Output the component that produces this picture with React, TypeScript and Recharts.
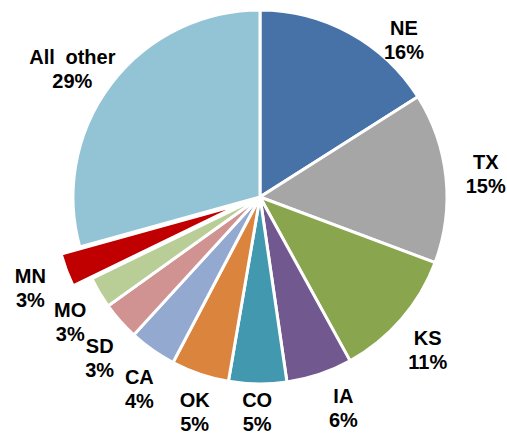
import { PieChart, Pie, Cell } from 'recharts';

const states = ['NE', 'TX', 'KS', 'IA', 'CO', 'OK', 'CA', 'SD', 'MO', 'MN', 'All other'];
const shares = [16.0, 14.7, 11.3, 5.7, 5.0, 5.0, 4.1, 3.3, 2.7, 2.9, 29.3];
const colors = [
  '#4672A8', '#A6A6A6', '#89A54E', '#71588F', '#4198AF', '#DB843D',
  '#93A9CF', '#D09392', '#B9CD96', '#C00000', '#93C4D5',
];
const exploded = 'MN';

// small clockwise nudges (degrees) so labels sit where the original put them
const labelNudge: Record<string, number> = {
  KS: 1.5, IA: -3, OK: -2, CA: -3, SD: -3.5, MO: -2.5, MN: -1, 'All other': -3,
};

const RADIAN = Math.PI / 180;
const CX = 260;
const CY = 197;
const R = 187;
const EXPLODE = 20;

const data = states.map((name, i) => ({ name, value: shares[i], color: colors[i] }));

// mid angle of the exploded slice, recharts convention (90 = top, decreasing clockwise)
const total = shares.reduce((a, b) => a + b, 0);
const expIdx = states.indexOf(exploded);
const before = shares.slice(0, expIdx).reduce((a, b) => a + b, 0);
const expMid = 90 - (360 * (before + shares[expIdx] / 2)) / total;
const expDx = EXPLODE * Math.cos(expMid * RADIAN);
const expDy = -EXPLODE * Math.sin(expMid * RADIAN);

function renderLabel(props: any) {
  const { cx, cy, midAngle, outerRadius, percent, name } = props;
  let ox = cx;
  let oy = cy;
  if (name === exploded) {
    ox += expDx;
    oy += expDy;
  }
  const ang = midAngle - (labelNudge[name] || 0);
  const dist = outerRadius + 40;
  const cos = Math.cos(-ang * RADIAN);
  const sin = Math.sin(-ang * RADIAN);
  let x = ox + dist * cos;
  let y = oy + dist * sin;
  if (y < 40) {
    y = 40;
    const r2 = outerRadius + 26;
    x = ox + Math.sign(cos) * Math.sqrt(r2 * r2 - (oy - y) * (oy - y));
  }
  if (y > 412) y = 412;
  return (
    <text
      x={x}
      y={y}
      textAnchor="middle"
      fill="#000"
      fontFamily="'Liberation Sans', Arial, sans-serif"
      fontWeight="bold"
      fontSize={20}
      style={{ wordSpacing: 5 }}
    >
      <tspan x={x} dy={-5}>{name}</tspan>
      <tspan x={x} dy={24}>{`${Math.round(percent * 100)}%`}</tspan>
    </text>
  );
}

export default function App() {
  return (
    <div style={{ position: 'absolute', left: 0, top: 0, background: '#fff' }}>
      <PieChart width={507} height={436} margin={{ top: 0, right: 0, bottom: 0, left: 0 }}>
        <Pie
          data={data}
          dataKey="value"
          nameKey="name"
          cx={CX}
          cy={CY}
          outerRadius={R}
          startAngle={90}
          endAngle={-270}
          stroke="#fff"
          strokeWidth={3}
          label={renderLabel}
          labelLine={false}
          isAnimationActive={false}
        >
          {data.map((d) => (
            <Cell
              key={d.name}
              fill={d.name === exploded ? 'none' : d.color}
              stroke={d.name === exploded ? 'none' : '#fff'}
            />
          ))}
        </Pie>
        <Pie
          data={data}
          dataKey="value"
          nameKey="name"
          cx={CX + expDx}
          cy={CY + expDy}
          outerRadius={R}
          startAngle={90}
          endAngle={-270}
          stroke="none"
          isAnimationActive={false}
        >
          {data.map((d) => (
            <Cell
              key={d.name}
              fill={d.name === exploded ? d.color : 'none'}
              stroke={d.name === exploded ? '#fff' : 'none'}
              strokeWidth={3}
            />
          ))}
        </Pie>
      </PieChart>
    </div>
  );
}
